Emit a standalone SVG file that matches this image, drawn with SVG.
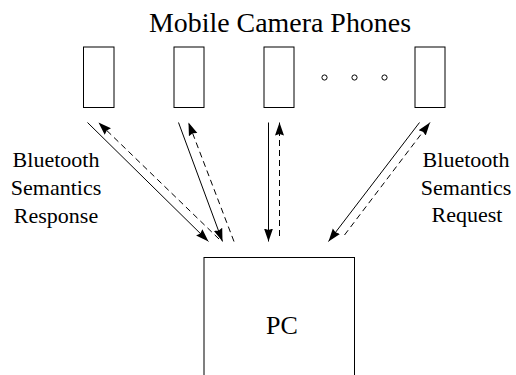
<svg xmlns="http://www.w3.org/2000/svg" width="516" height="375" viewBox="0 0 516 375">
<defs>
<marker id="ah" viewBox="0 0 13 10" refX="13" refY="5" markerWidth="13" markerHeight="10" markerUnits="userSpaceOnUse" orient="auto">
<path d="M0,0.5 L13,5 L0,9.5 L1.5,5 Z" fill="#000"/>
</marker>
</defs>
<style>
.box{fill:#fff;stroke:#000;stroke-width:1}
.t{font-family:"Liberation Serif","Times New Roman",serif;fill:#000;text-anchor:middle}
.lbl{font-size:22px}
.sol{stroke:#000;stroke-width:1;fill:none;marker-end:url(#ah)}
.das{stroke:#000;stroke-width:1;fill:none;stroke-dasharray:6 4;marker-end:url(#ah)}
.dot{fill:none;stroke:#000;stroke-width:1}
</style>
<rect width="516" height="375" fill="#fff"/>
<text class="t" x="280" y="31.5" font-size="26.5" textLength="262" lengthAdjust="spacingAndGlyphs">Mobile Camera Phones</text>
<g id="phone1"><rect class="box" x="83.5" y="47" width="30.5" height="60.5"/></g>
<g id="phone2"><rect class="box" x="174" y="47" width="30" height="60.5"/></g>
<g id="phone3"><rect class="box" x="264" y="47" width="30" height="60.5"/></g>
<g id="phone4"><rect class="box" x="415" y="47" width="30" height="60.5"/></g>
<g id="dots">
<circle class="dot" cx="324.5" cy="77.5" r="2.6"/>
<circle class="dot" cx="354.5" cy="77.5" r="2.6"/>
<circle class="dot" cx="384.5" cy="77.5" r="2.6"/>
</g>
<g id="pc">
<rect class="box" x="204" y="257.5" width="150.5" height="130"/>
<text class="t" x="282" y="333.5" font-size="26">PC</text>
</g>
<g id="label-response">
<text class="t lbl" x="56" y="167">Bluetooth</text>
<text class="t lbl" x="56" y="195">Semantics</text>
<text class="t lbl" x="56" y="222.5">Response</text>
</g>
<g id="label-request">
<text class="t lbl" x="466" y="167">Bluetooth</text>
<text class="t lbl" x="466" y="195">Semantics</text>
<text class="t lbl" x="467" y="222">Request</text>
</g>
<g id="connectors">
<line class="sol" x1="87.5" y1="122.5" x2="208.5" y2="241.5"/>
<line class="das" x1="219" y1="239" x2="98.5" y2="122.5"/>
<line class="sol" x1="178.5" y1="122.5" x2="222.5" y2="241.5"/>
<line class="das" x1="234" y1="241.5" x2="188.5" y2="122.5"/>
<line class="sol" x1="268.5" y1="122.5" x2="268.5" y2="241.5"/>
<line class="das" x1="279.5" y1="236" x2="279.5" y2="122.5"/>
<line class="sol" x1="419.5" y1="122.5" x2="328.5" y2="241.5"/>
<line class="das" x1="344.5" y1="235" x2="430" y2="122.5"/>
</g>
</svg>
